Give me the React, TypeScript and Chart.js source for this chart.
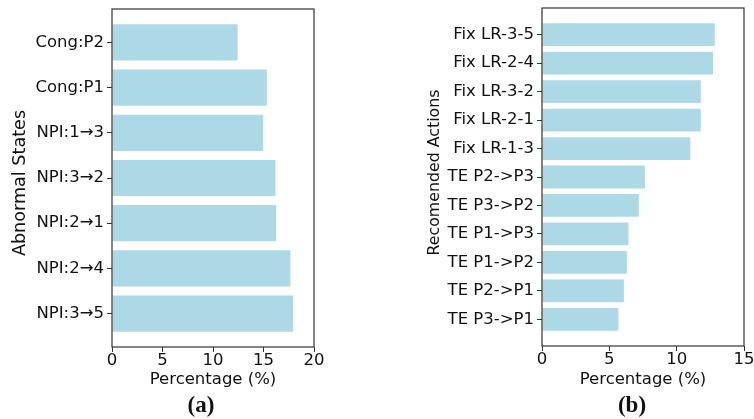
import { useEffect, useRef } from "react";
import { Chart, registerables } from "chart.js";

Chart.register(...registerables);

// Panel (a): abnormal states, listed bottom to top
const stateLabels = ["NPI:3→5", "NPI:2→4", "NPI:2→1", "NPI:3→2", "NPI:1→3", "Cong:P1", "Cong:P2"];
const stateValues = [17.93, 17.67, 16.25, 16.19, 14.97, 15.33, 12.44];
const stateTicks = [0, 5, 10, 15, 20];

// Panel (b): recommended actions, listed bottom to top
const actionLabels = [
  "TE P3->P1",
  "TE P2->P1",
  "TE P1->P2",
  "TE P1->P3",
  "TE P3->P2",
  "TE P2->P3",
  "Fix LR-1-3",
  "Fix LR-2-1",
  "Fix LR-3-2",
  "Fix LR-2-4",
  "Fix LR-3-5",
];
const actionValues = [5.68, 6.08, 6.3, 6.42, 7.19, 7.64, 11.02, 11.79, 11.79, 12.7, 12.83];
const actionTicks = [0, 5, 10, 15];

const W = 754;
const H = 419;
const FONT = "'DejaVu Sans', 'Liberation Sans', sans-serif";
const TEXT = "#111";
const BAR = "#ADD8E6";
const SPINE = "#333";
const BAR_HEIGHT = 0.8;

type Panel = {
  labels: string[];
  values: number[];
  xTicks: number[];
  xTitle: string;
  yTitle: string;
  // plot area in page pixels
  area: { left: number; top: number; right: number; bottom: number };
  axisBoxLeft: number;
  xAxisHeight: number;
  // rotated y title: baseline x, centre y, font size
  yTitleAt: { x: number; y: number; size: number };
};

const framePlugin = {
  id: "frame",
  afterDraw(chart: any) {
    const { ctx, chartArea: a } = chart;
    ctx.save();
    ctx.strokeStyle = SPINE;
    ctx.lineWidth = 1.2;
    ctx.strokeRect(a.left, a.top, a.right - a.left, a.bottom - a.top);
    ctx.restore();
  },
};

// Draws the rotated y-axis title at a fixed spot beside the tick labels
function yTitlePlugin(p: Panel) {
  return {
    id: "yTitle",
    afterDraw(chart: any) {
      const { ctx } = chart;
      ctx.save();
      ctx.translate(p.yTitleAt.x, p.yTitleAt.y);
      ctx.rotate(-Math.PI / 2);
      ctx.font = `${p.yTitleAt.size}px ${FONT}`;
      ctx.fillStyle = TEXT;
      ctx.textAlign = "center";
      ctx.textBaseline = "alphabetic";
      ctx.fillText(p.yTitle, 0, 0);
      ctx.restore();
    },
  };
}

function buildConfig(p: Panel): any {
  const n = p.labels.length;
  // bars span [-0.4, n-0.6]; pad that span by 5% on each side
  const lo = -BAR_HEIGHT / 2;
  const hi = n - 1 + BAR_HEIGHT / 2;
  const margin = 0.05 * (hi - lo);
  const font = { family: FONT, size: 16.5, lineHeight: 1 };
  const tickGrid = {
    offset: false,
    drawOnChartArea: false,
    drawTicks: true,
    tickLength: 5,
    color: SPINE,
    lineWidth: 1,
  };
  return {
    type: "bar",
    data: {
      datasets: [
        {
          data: p.values.map((v, i) => ({ x: v, y: i })),
          backgroundColor: BAR,
          borderWidth: 0,
          categoryPercentage: BAR_HEIGHT,
          barPercentage: 1,
        },
      ],
    },
    options: {
      indexAxis: "y",
      animation: false,
      responsive: false,
      maintainAspectRatio: false,
      events: [],
      plugins: { legend: { display: false }, tooltip: { enabled: false } },
      layout: {
        padding: {
          left: p.axisBoxLeft,
          top: p.area.top,
          right: W - p.area.right,
          bottom: H - p.area.bottom - p.xAxisHeight,
        },
      },
      scales: {
        x: {
          type: "linear",
          offset: false,
          min: p.xTicks[0],
          max: p.xTicks[p.xTicks.length - 1],
          afterBuildTicks: (s: any) => {
            s.ticks = p.xTicks.map((v) => ({ value: v }));
          },
          afterFit: (s: any) => {
            s.height = p.xAxisHeight;
            s.paddingLeft = 0;
            s.paddingRight = 0;
          },
          ticks: { font, color: TEXT, padding: 0, autoSkip: false, maxRotation: 0 },
          grid: tickGrid,
          border: { display: false },
          title: {
            display: true,
            text: p.xTitle,
            font,
            color: TEXT,
            padding: { top: 0, bottom: 0 },
          },
        },
        y: {
          type: "linear",
          offset: false,
          min: lo - margin,
          max: hi + margin,
          afterBuildTicks: (s: any) => {
            s.ticks = p.labels.map((_, i) => ({ value: i }));
          },
          afterFit: (s: any) => {
            s.width = p.area.left - p.axisBoxLeft;
            s.paddingTop = 0;
            s.paddingBottom = 0;
          },
          ticks: {
            font,
            color: TEXT,
            padding: 3,
            autoSkip: false,
            callback: (v: number) => p.labels[v],
          },
          grid: tickGrid,
          border: { display: false },
          title: { display: false },
        },
      },
    },
    plugins: [framePlugin, yTitlePlugin(p)],
  };
}

const panelA: Panel = {
  labels: stateLabels,
  values: stateValues,
  xTicks: stateTicks,
  xTitle: "Percentage (%)",
  yTitle: "Abnormal States",
  area: { left: 112, top: 9, right: 314, bottom: 347 },
  axisBoxLeft: 0,
  xAxisHeight: 41.25,
  yTitleAt: { x: 25, y: 183, size: 17.6 },
};

const panelB: Panel = {
  labels: actionLabels,
  values: actionValues,
  xTicks: actionTicks,
  xTitle: "Percentage (%)",
  yTitle: "Recomended Actions",
  area: { left: 542, top: 8, right: 744, bottom: 346 },
  axisBoxLeft: 400,
  xAxisHeight: 42.25,
  yTitleAt: { x: 438.5, y: 172.5, size: 15.8 },
};

function BarPanel({ panel }: { panel: Panel }) {
  const ref = useRef<HTMLCanvasElement | null>(null);
  useEffect(() => {
    if (!ref.current) return;
    const chart = new Chart(ref.current, buildConfig(panel));
    return () => chart.destroy();
  }, [panel]);
  return (
    <canvas
      ref={ref}
      width={W}
      height={H}
      style={{ position: "absolute", left: 0, top: 0, width: W, height: H }}
    />
  );
}

function Caption({ text, x }: { text: string; x: number }) {
  return (
    <div
      style={{
        position: "absolute",
        left: x - 40,
        top: 392.8,
        width: 80,
        textAlign: "center",
        font: "bold 23px 'Liberation Serif', 'Times New Roman', serif",
        lineHeight: "23px",
        color: "#111",
      }}
    >
      {text}
    </div>
  );
}

export default function App() {
  return (
    <div
      style={{
        position: "fixed",
        left: 0,
        top: 0,
        width: W,
        height: H,
        background: "#fff",
        overflow: "hidden",
      }}
    >
      <BarPanel panel={panelA} />
      <BarPanel panel={panelB} />
      <Caption text="(a)" x={201} />
      <Caption text="(b)" x={632} />
    </div>
  );
}
